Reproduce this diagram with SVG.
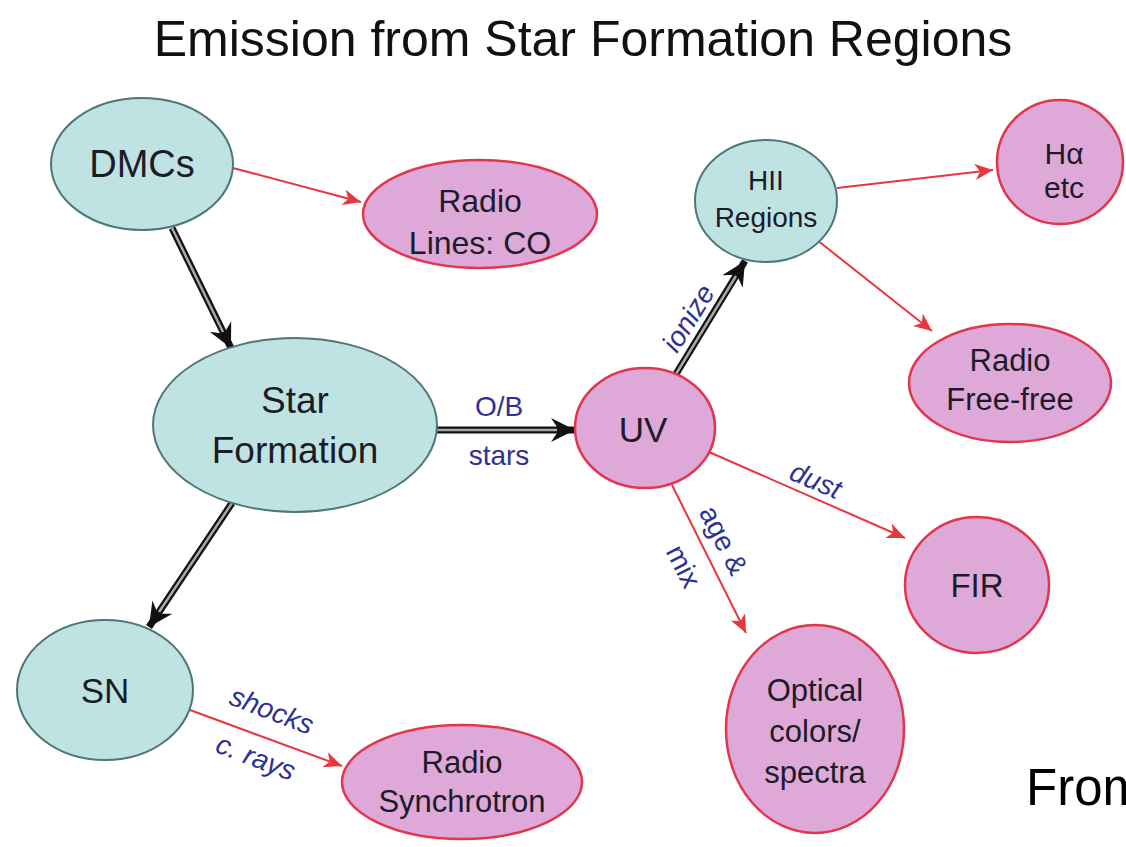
<svg xmlns="http://www.w3.org/2000/svg" width="1126" height="847" viewBox="0 0 1126 847">
<style>
text{font-family:"Liberation Sans",Arial,sans-serif;}
.teal{fill:#bfe3e3;stroke:#4f7676;stroke-width:2;}
.pink{fill:#dea8d8;stroke:#e2364c;stroke-width:2.5;}
.nt{fill:#1c1c28;text-anchor:middle;}
.lb{fill:#2e3192;font-size:28px;text-anchor:middle;}
.it{font-style:italic;}
.red{stroke:#e8363f;stroke-width:2;fill:none;}
.blk{stroke:#111;stroke-width:7;fill:none;}
.gry{stroke:#a8a8a8;stroke-width:2.5;fill:none;}
</style>
<defs>
<marker id="ar" viewBox="0 0 20 20" refX="18" refY="10" markerWidth="20" markerHeight="20" markerUnits="userSpaceOnUse" orient="auto">
<path d="M0,2 L18,10 L0,18 L5,10 Z" fill="#e8363f"/>
</marker>
<marker id="ab" viewBox="0 0 26 26" refX="24" refY="13" markerWidth="26" markerHeight="26" markerUnits="userSpaceOnUse" orient="auto">
<path d="M0,1 L24,13 L0,25 L8,13 Z" fill="#111"/>
</marker>
</defs>
<rect width="1126" height="847" fill="#fff"/>
<text x="583" y="56" font-size="50" text-anchor="middle" fill="#111">Emission from Star Formation Regions</text>
<text x="1026" y="805" font-size="51" fill="#000">From</text>

<g id="connectors">
<line class="red" x1="233" y1="168" x2="361" y2="202" marker-end="url(#ar)"/>
<line class="red" x1="837" y1="188" x2="993" y2="170" marker-end="url(#ar)"/>
<line class="red" x1="817" y1="240" x2="932" y2="331" marker-end="url(#ar)"/>
<line class="red" x1="709" y1="452" x2="905" y2="538" marker-end="url(#ar)"/>
<line class="red" x1="672" y1="485" x2="746" y2="633" marker-end="url(#ar)"/>
<line class="red" x1="190" y1="710" x2="342" y2="766" marker-end="url(#ar)"/>
<g>
<line class="blk" x1="172" y1="228" x2="231" y2="348" marker-end="url(#ab)"/>
<line class="gry" x1="172" y1="228" x2="223" y2="332"/>
</g>
<g>
<line class="blk" x1="437" y1="430" x2="575" y2="430" marker-end="url(#ab)"/>
<line class="gry" x1="437" y1="430" x2="557" y2="430"/>
</g>
<g>
<line class="blk" x1="676" y1="374" x2="745" y2="261" marker-end="url(#ab)"/>
<line class="gry" x1="676" y1="374" x2="736" y2="276"/>
</g>
<g>
<line class="blk" x1="232" y1="503" x2="149" y2="627" marker-end="url(#ab)"/>
<line class="gry" x1="232" y1="503" x2="159" y2="612"/>
</g>
<text class="lb" x="499" y="416">O/B</text>
<text class="lb" x="499" y="465">stars</text>
<text class="lb it" transform="translate(688,318) rotate(-58)" y="10">ionize</text>
<text class="lb it" transform="translate(816,480) rotate(23)" y="10">dust</text>
<text class="lb" transform="translate(724,540) rotate(63)" y="10">age &amp;</text>
<text class="lb" transform="translate(684,566) rotate(63)" y="10">mix</text>
<text class="lb it" transform="translate(272,710) rotate(21)" y="10">shocks</text>
<text class="lb it" transform="translate(256,757) rotate(21)" y="10">c. rays</text>
</g>

<g id="dmcs"><ellipse class="teal" cx="142" cy="164" rx="91" ry="66"/><text class="nt" x="142" y="177" font-size="38">DMCs</text></g>
<g id="radio-lines"><ellipse class="pink" cx="480" cy="214" rx="117" ry="54"/><text class="nt" x="480" y="212" font-size="32">Radio</text><text class="nt" x="480" y="254" font-size="32">Lines: CO</text></g>
<g id="star-formation"><ellipse class="teal" cx="295" cy="425" rx="142" ry="87"/><text class="nt" x="295" y="413" font-size="37">Star</text><text class="nt" x="295" y="463" font-size="37">Formation</text></g>
<g id="uv"><ellipse class="pink" cx="645" cy="428" rx="70" ry="60"/><text class="nt" x="643" y="442" font-size="35">UV</text></g>
<g id="hii"><ellipse class="teal" cx="766" cy="201" rx="71" ry="61"/><text class="nt" x="766" y="190" font-size="28">HII</text><text class="nt" x="766" y="227" font-size="28">Regions</text></g>
<g id="halpha"><ellipse class="pink" cx="1060" cy="162" rx="63" ry="62"/><text class="nt" x="1064" y="164" font-size="30">Hα</text><text class="nt" x="1064" y="198" font-size="30">etc</text></g>
<g id="radio-ff"><ellipse class="pink" cx="1010" cy="383" rx="101" ry="59"/><text class="nt" x="1010" y="371" font-size="31">Radio</text><text class="nt" x="1010" y="410" font-size="31">Free-free</text></g>
<g id="fir"><ellipse class="pink" cx="977" cy="585" rx="72" ry="68"/><text class="nt" x="977" y="597" font-size="33">FIR</text></g>
<g id="optical"><ellipse class="pink" cx="815" cy="729" rx="89" ry="104"/><text class="nt" x="815" y="701" font-size="31">Optical</text><text class="nt" x="815" y="742" font-size="31">colors/</text><text class="nt" x="815" y="783" font-size="31">spectra</text></g>
<g id="sn"><ellipse class="teal" cx="105" cy="690" rx="88" ry="70"/><text class="nt" x="105" y="703" font-size="35">SN</text></g>
<g id="radio-sync"><ellipse class="pink" cx="462" cy="782" rx="120" ry="57"/><text class="nt" x="462" y="773" font-size="31">Radio</text><text class="nt" x="462" y="812" font-size="31">Synchrotron</text></g>
</svg>
